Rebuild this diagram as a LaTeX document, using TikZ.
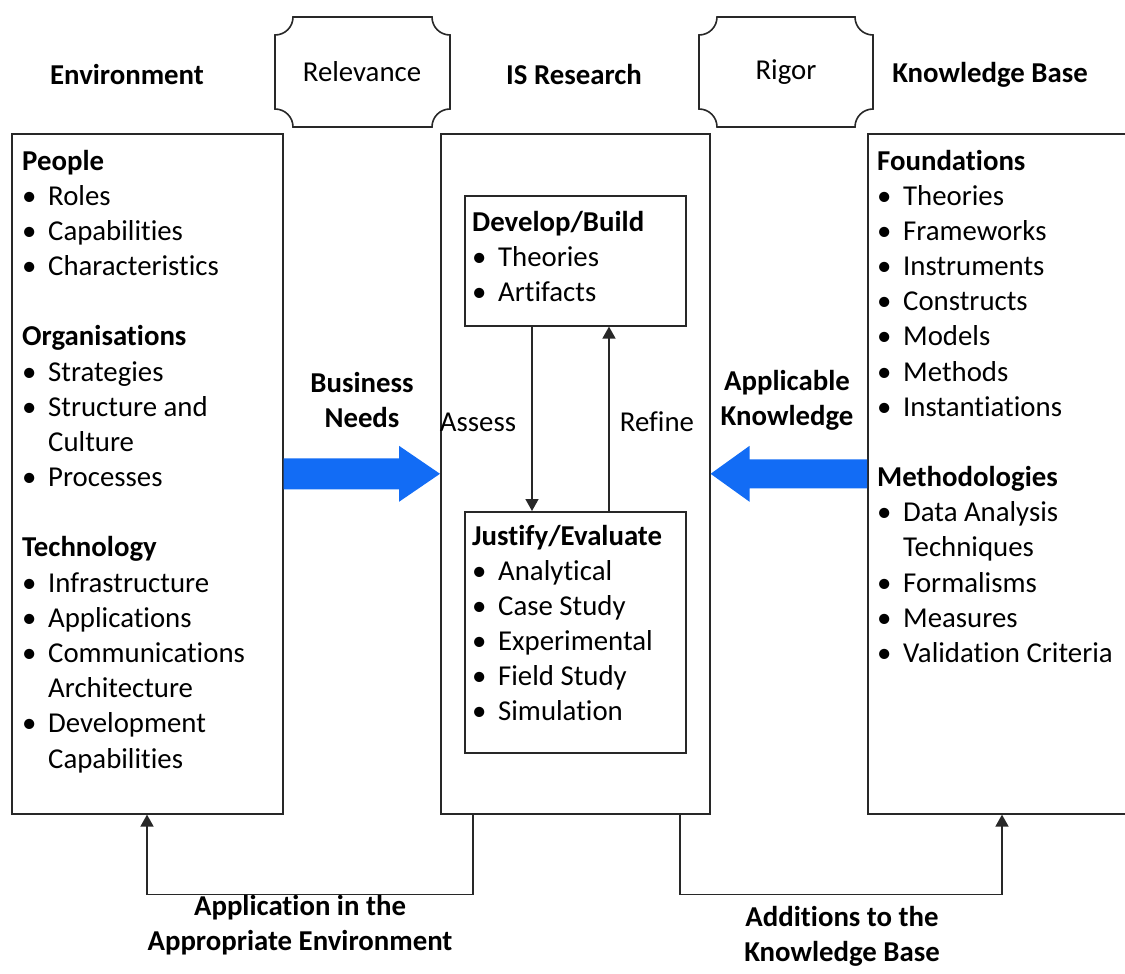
\documentclass[tikz,border=0pt]{standalone}
\usepackage{fontspec}
\setmainfont{Carlito}[Ligatures=NoCommon]
\usetikzlibrary{arrows.meta,calc}

\definecolor{ink}{RGB}{40,40,40}
\definecolor{flowblue}{RGB}{18,108,245}

\newcommand{\hd}[1]{\textbf{#1}}
\newcommand{\bl}[1]{\makebox[26pt][l]{•}#1}
\newcommand{\ct}[1]{\hspace*{26pt}#1}

% banner with concave (notched) corners: x1 y1 x2 y2
\newcommand{\notchbox}[4]{%
  \draw[ink, line width=1.6pt]
    ({#1+18},#2) -- ({#3-18},#2)
    .. controls ({#3-18},{#2+10}) and ({#3-10},{#2+18}) .. (#3,{#2+18})
    -- (#3,{#4-18})
    .. controls ({#3-10},{#4-18}) and ({#3-18},{#4-10}) .. ({#3-18},#4)
    -- ({#1+18},#4)
    .. controls ({#1+18},{#4-10}) and ({#1+10},{#4-18}) .. (#1,{#4-18})
    -- (#1,{#2+18})
    .. controls ({#1+10},{#2+18}) and ({#1+18},{#2+10}) .. cycle;}

\tikzset{
  frame/.style={draw=ink, line width=1.6pt, inner sep=0pt, anchor=north west},
  txt/.style={font=\fontsize{28.8}{35.2}\selectfont, inner sep=0pt, text=black},
  row/.style={txt, anchor=base west},
  hdr/.style={txt, font=\fontsize{28.8}{35.2}\selectfont\bfseries},
  conn/.style={draw=ink, line width=1.6pt, -{Triangle[length=12pt,width=13pt]}},
}

\begin{document}
\begin{tikzpicture}[x=1pt,y=-1pt]
\useasboundingbox (0,0) rectangle (1125,974);

% column headers and the two banners
\node[hdr] (henv) at (127,75) {Environment};
\node[hdr] (hisr) at (574,75) {IS Research};
\node[hdr] (hkb)  at (990,75) {Knowledge Base};
\notchbox{275}{17}{450}{127}
\node[txt] (relev) at (362,72) {Relevance};
\notchbox{699}{17}{873}{127}
\node[txt] (rigor) at (786,72) {Rigor};

% the three columns
\node[frame, minimum width=271pt, minimum height=680pt] (env) at (11,133) {};
\node[frame, minimum width=269pt, minimum height=680pt] (isr) at (440,133) {};
\node[frame, minimum width=280pt, minimum height=680pt] (kb)  at (867,133) {};

% inner boxes of the research column
\node[frame, minimum width=221pt, minimum height=130pt] (dev)  at (464,195) {};
\node[frame, minimum width=221pt, minimum height=241pt] (just) at (464,511) {};

% environment contents
\foreach \t [count=\i] in {\hd{People},\bl{Roles},\bl{Capabilities},\bl{Characteristics},{},
  \hd{Organisations},\bl{Strategies},\bl{Structure and},\ct{Culture},\bl{Processes},{},
  \hd{Technology},\bl{Infrastructure},\bl{Applications},\bl{Communications},\ct{Architecture},
  \bl{Development},\ct{Capabilities}}
  \node[row] (envl\i) at (22,{170+35.18*(\i-1)}) {\t};

% knowledge base contents
\foreach \t [count=\i] in {\hd{Foundations},\bl{Theories},\bl{Frameworks},\bl{Instruments},
  \bl{Constructs},\bl{Models},\bl{Methods},\bl{Instantiations},{},
  \hd{Methodologies},\bl{Data Analysis},\ct{Techniques},\bl{Formalisms},\bl{Measures},
  \bl{Validation Criteria}}
  \node[row] (kbl\i) at (877,{170+35.18*(\i-1)}) {\t};

% develop / build
\foreach \t [count=\i] in {\hd{Develop/Build},\bl{Theories},\bl{Artifacts}}
  \node[row] (devl\i) at (472,{231+35.18*(\i-1)}) {\t};

% justify / evaluate
\foreach \t [count=\i] in {\hd{Justify/Evaluate},\bl{Analytical},\bl{Case Study},
  \bl{Experimental},\bl{Field Study},\bl{Simulation}}
  \node[row] (justl\i) at (472,{545+35.18*(\i-1)}) {\t};

% assess / refine loop
\draw[conn] ([xshift=68pt]dev.south west) -- ([xshift=68pt]just.north west);
\draw[conn] ([xshift=145pt]just.north west) -- ([xshift=145pt]dev.south west);
\node[txt] (assess) at (478,422) {Assess};
\node[txt] (refine) at (657,422) {Refine};

% business needs and applicable knowledge flows
\fill[flowblue] ($(env.east)+(0,-15.5)$) -- ($(isr.west)+(-41,-15.5)$)
  -- ($(isr.west)+(-41,-28)$) -- (isr.west) -- ($(isr.west)+(-41,28)$)
  -- ($(isr.west)+(-41,15.5)$) -- ($(env.east)+(0,15.5)$) -- cycle;
\fill[flowblue] ($(kb.west)+(0,-14.5)$) -- ($(isr.east)+(39,-14.5)$)
  -- ($(isr.east)+(39,-28)$) -- (isr.east) -- ($(isr.east)+(39,28)$)
  -- ($(isr.east)+(39,14.5)$) -- ($(kb.west)+(0,14.5)$) -- cycle;
\node[hdr, align=center] (bneeds) at (362,400) {Business\\Needs};
\node[hdr, align=center] (aknow)  at (787,400) {Applicable\\Knowledge};

% application and additions
\draw[conn] ([xshift=33pt]isr.south west) -- ++(0,80) -| ([xshift=136pt]env.south west);
\draw[conn] ([xshift=240pt]isr.south west) -- ++(0,80) -| ([xshift=135pt]kb.south west);
\node[hdr, align=center] (lapp) at (300,925) {Application in the\\Appropriate Environment};
\node[hdr, align=center] (ladd) at (842,936) {Additions to the\\Knowledge Base};
\end{tikzpicture}
\end{document}
